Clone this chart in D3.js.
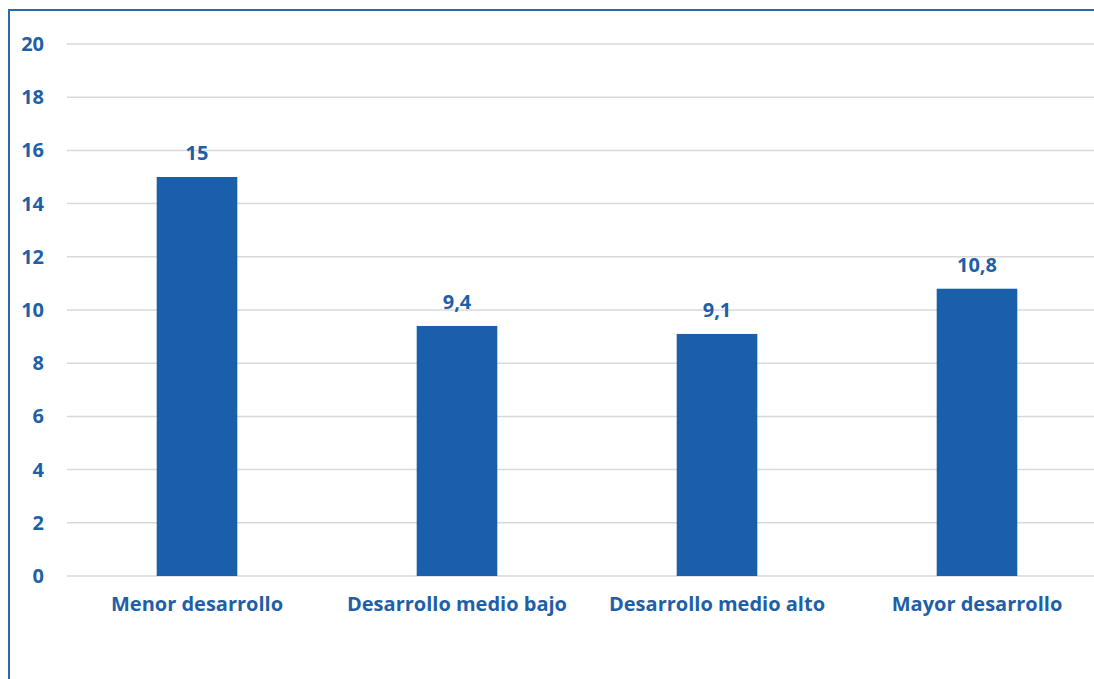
<!DOCTYPE html>
<html>
<head>
<meta charset="utf-8">
<script src="https://cdn.jsdelivr.net/npm/d3@7"></script>
<style>
  html, body { margin: 0; padding: 0; background: #fff; }
  svg text { font-family: "Open Sans", "Liberation Sans", sans-serif; font-weight: bold; fill: #1f5fa8; }
</style>
</head>
<body>
<script>
const categorias = ["Menor desarrollo", "Desarrollo medio bajo", "Desarrollo medio alto", "Mayor desarrollo"];
const valores = [15, 9.4, 9.1, 10.8];
const etiquetas = ["15", "9,4", "9,1", "10,8"];
const ticksY = [0, 2, 4, 6, 8, 10, 12, 14, 16, 18, 20];

const width = 1094, height = 679;
const margin = {left: 67, top: 44, bottom: 103};
const fs = 20;

const svg = d3.select("body").append("svg")
    .attr("width", width)
    .attr("height", height);

// marco azul del gráfico
svg.append("rect")
    .attr("x", 9).attr("y", 10)
    .attr("width", 1200).attr("height", 800)
    .attr("fill", "none")
    .attr("stroke", "#2a68b0")
    .attr("stroke-width", 2);

const x = d3.scaleBand()
    .domain(categorias)
    .range([margin.left, margin.left + 4 * 260])
    .paddingInner(0.69)
    .paddingOuter(0.345);

const y = d3.scaleLinear()
    .domain([0, 20])
    .range([height - margin.bottom, margin.top]);

// líneas de cuadrícula
svg.append("g")
  .selectAll("line")
  .data(ticksY)
  .join("line")
    .attr("x1", margin.left)
    .attr("x2", width)
    .attr("y1", d => y(d))
    .attr("y2", d => y(d))
    .attr("stroke", "#d9d9d9")
    .attr("stroke-width", 1.5);

// eje Y
const yAxis = svg.append("g")
    .attr("transform", `translate(${margin.left - 23},0)`)
    .call(d3.axisLeft(y).tickValues(ticksY).tickSize(0).tickPadding(0));
yAxis.select(".domain").remove();
yAxis.selectAll("text")
    .attr("font-size", fs)
    .style("font-family", null);

// barras
svg.append("g")
  .selectAll("rect")
  .data(valores)
  .join("rect")
    .attr("x", (d, i) => x(categorias[i]))
    .attr("y", d => y(d))
    .attr("width", x.bandwidth())
    .attr("height", d => y(0) - y(d))
    .attr("fill", "#1a5fa9");

// etiquetas de valor
svg.append("g")
  .selectAll("text")
  .data(valores)
  .join("text")
    .attr("x", (d, i) => x(categorias[i]) + x.bandwidth() / 2)
    .attr("y", d => y(d) - 17)
    .attr("text-anchor", "middle")
    .attr("font-size", fs)
    .text((d, i) => etiquetas[i]);

// eje X
const xAxis = svg.append("g")
    .attr("transform", `translate(0,${y(0)})`)
    .call(d3.axisBottom(x).tickSize(0).tickPadding(21));
xAxis.select(".domain").remove();
xAxis.selectAll("text")
    .attr("font-size", fs)
    .style("font-family", null);
</script>
</body>
</html>
